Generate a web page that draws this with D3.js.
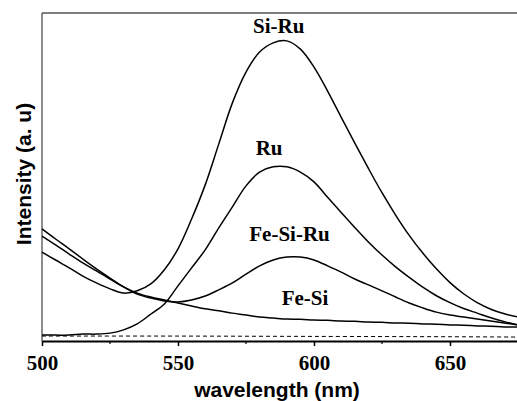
<!DOCTYPE html>
<html>
<head>
<meta charset="utf-8">
<script src="https://cdn.jsdelivr.net/npm/d3@7"></script>
<style>
  body { margin: 0; background: #fff; }
  svg { display: block; }
</style>
</head>
<body>
<div id="chart"></div>
<script>
// wavelength grid (nm) and emission intensities (a.u.)
const wavelength = [500, 505, 510, 515, 520, 525, 530, 535, 540, 545, 550, 555,
  560, 565, 570, 575, 580, 585, 590, 595, 600, 605, 610, 615, 620, 625, 630,
  635, 640, 645, 650, 655, 660, 665, 670, 675];

const siRu = [271, 247, 223, 198, 177, 159, 146, 153, 174, 217, 281, 372,
  476, 601, 726, 820, 881, 909, 915, 890, 835, 762, 682, 603, 526, 452, 384,
  322, 268, 220, 178, 144, 117, 97, 83, 73];

const ru = [18, 18, 18, 21, 21, 24, 34, 52, 82, 113, 168, 223,
  278, 345, 409, 473, 515, 531, 531, 515, 485, 438, 392, 346, 302, 262, 226,
  194, 164, 138, 117, 99, 85, 71, 59, 49];

const feSiRu = [342, 311, 281, 250, 220, 192, 165, 143, 131, 122, 119, 125,
  137, 156, 177, 204, 229, 247, 256, 256, 247, 229, 210, 189, 171, 153, 134,
  116, 101, 88, 79, 73, 67, 61, 55, 49];

const feSi = [320, 293, 265, 238, 214, 189, 165, 146, 134, 125, 116, 107,
  98, 92, 85, 79, 73, 70, 67, 66, 64, 63, 61, 60, 58, 57, 55,
  54, 52, 51, 49, 48, 46, 45, 43, 43];

// dashed reference trace
const blankWl = [500, 550, 600, 650, 675];
const blank = [15, 15, 14, 13, 12];

const majorTicks = [500, 550, 600, 650];
const minorTicks = [525, 575, 625];

const labels = [
  { text: "Si-Ru", wl: 587, val: 939 },
  { text: "Ru", wl: 583.5, val: 567 },
  { text: "Fe-Si-Ru", wl: 591, val: 305 },
  { text: "Fe-Si", wl: 596.7, val: 110 }
];

const W = 517, H = 401;
const svg = d3.select("#chart").append("svg")
  .attr("width", W)
  .attr("height", H);

const x = d3.scaleLinear().domain([500, 675]).range([42, 518]);
const y = d3.scaleLinear().domain([0, 1000]).range([341, 13]);

// frame: left and top in grey
svg.append("line")
  .attr("x1", x(500)).attr("x2", x(500))
  .attr("y1", y(1000)).attr("y2", y(0))
  .attr("stroke", "#666").attr("stroke-width", 1.5);
svg.append("line")
  .attr("x1", x(500)).attr("x2", x(675))
  .attr("y1", y(1000)).attr("y2", y(1000))
  .attr("stroke", "#555").attr("stroke-width", 1.5);

// bottom axis
const xAxis = svg.append("g")
  .attr("transform", `translate(0,${y(0)})`)
  .call(d3.axisBottom(x)
    .tickValues(majorTicks)
    .tickSize(5)
    .tickSizeOuter(0)
    .tickFormat(d3.format("d")));

xAxis.select(".domain").attr("stroke", "#000").attr("stroke-width", 1.8);
xAxis.selectAll(".tick line").attr("stroke", "#000").attr("stroke-width", 1.5);
xAxis.selectAll(".tick text")
  .attr("y", 29)
  .attr("dy", null)
  .attr("fill", "#000")
  .style("font-family", "'Liberation Serif', 'Times New Roman', serif")
  .style("font-weight", "bold")
  .style("font-size", "21px");

xAxis.selectAll(".minor")
  .data(minorTicks)
  .join("line")
  .attr("class", "minor")
  .attr("x1", d => x(d)).attr("x2", d => x(d))
  .attr("y1", 0).attr("y2", 3)
  .attr("stroke", "#000").attr("stroke-width", 1.2);

// curves
const line = d3.line()
  .x(d => x(d[0]))
  .y(d => y(d[1]))
  .curve(d3.curveCatmullRom.alpha(0.5));

const series = [siRu, ru, feSiRu, feSi];
svg.append("g")
  .selectAll("path")
  .data(series)
  .join("path")
  .attr("d", s => line(wavelength.map((w, i) => [w, s[i]])))
  .attr("fill", "none")
  .attr("stroke", "#000")
  .attr("stroke-width", 1.5);

svg.append("path")
  .attr("d", line(blankWl.map((w, i) => [w, blank[i]])))
  .attr("fill", "none")
  .attr("stroke", "#000")
  .attr("stroke-width", 1)
  .attr("stroke-dasharray", "4,3");

// curve labels
svg.append("g")
  .selectAll("text")
  .data(labels)
  .join("text")
  .attr("x", d => x(d.wl))
  .attr("y", d => y(d.val))
  .attr("text-anchor", "middle")
  .style("font-family", "'Liberation Serif', 'Times New Roman', serif")
  .style("font-weight", "bold")
  .style("font-size", "21px")
  .text(d => d.text);

// axis titles
svg.append("text")
  .attr("x", 277)
  .attr("y", 397)
  .attr("text-anchor", "middle")
  .style("font-family", "'Liberation Sans', Arial, sans-serif")
  .style("font-weight", "bold")
  .style("font-size", "21px")
  .text("wavelength (nm)");

svg.append("text")
  .attr("transform", "translate(31,174) rotate(-90)")
  .attr("text-anchor", "middle")
  .style("font-family", "'Liberation Sans', Arial, sans-serif")
  .style("font-weight", "bold")
  .style("font-size", "21px")
  .text("Intensity (a. u)");
</script>
</body>
</html>
